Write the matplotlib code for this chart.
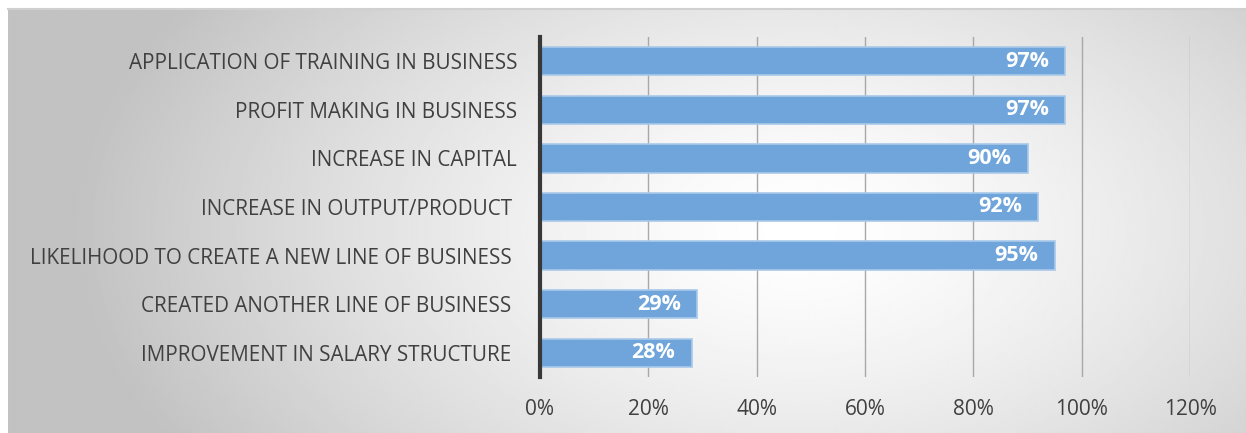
import numpy as np
import matplotlib
matplotlib.use("Agg")
import matplotlib.pyplot as plt
from matplotlib.ticker import PercentFormatter

categories = [
    "IMPROVEMENT IN SALARY STRUCTURE ",
    "CREATED ANOTHER LINE OF BUSINESS ",
    "LIKELIHOOD TO CREATE A NEW LINE OF BUSINESS ",
    "INCREASE IN OUTPUT/PRODUCT ",
    "INCREASE IN CAPITAL",
    "PROFIT MAKING IN BUSINESS",
    "APPLICATION OF TRAINING IN BUSINESS",
]
values = [0.28, 0.29, 0.95, 0.92, 0.90, 0.97, 0.97]
xticks = [0, 0.2, 0.4, 0.6, 0.8, 1.0, 1.2]

plt.rcParams["font.family"] = ["Open Sans", "DejaVu Sans"]

W, H = 1246, 433
fig = plt.figure(figsize=(W / 100, H / 100), dpi=100)
fig.patch.set_facecolor("white")

# radial grey-to-white backdrop for the chart area
bg = fig.add_axes([8 / W, 0, 1 - 8 / W, 1 - 9 / H])
bg.set_axis_off()
nx, ny = 620, 212
gx, gy = np.meshgrid(np.linspace(8, W, nx), np.linspace(9, H, ny))
r = np.sqrt(((gx - 800) / 560) ** 2 + ((gy - 230) / 330) ** 2)
shade = 1.0 - 0.24 * np.clip(r, 0, 1.3) ** 1.4 / 1.3 ** 1.4
bg.imshow(shade, cmap="gray", vmin=0, vmax=1, aspect="auto",
          extent=[0, 1, 0, 1], interpolation="bilinear")
bg.plot([0, 1], [1, 1], color="#d0d0d0", lw=1.5, transform=bg.transAxes, clip_on=False)

ax = fig.add_axes([540 / W, 1 - 377 / H, 650 / W, 340 / H])
ax.set_facecolor("none")
y = np.arange(len(categories))
bars = ax.barh(y, values, height=0.58, color="#6fa5da",
               edgecolor="#a9c9ea", linewidth=1.2, zorder=3)
for b, v in zip(bars, values):
    ax.text(v - 0.03, b.get_y() + b.get_height() / 2, f"{v:.0%}",
            ha="right", va="center", color="white", fontsize=15.5,
            fontweight="bold", zorder=4)

ax.set_xlim(0, 1.2)
ax.set_ylim(-0.5, len(categories) - 0.5)
ax.set_xticks(xticks)
ax.xaxis.set_major_formatter(PercentFormatter(1.0, decimals=0))
ax.set_yticks(y)
ax.set_yticklabels(categories)
ax.tick_params(axis="x", length=0, pad=16, labelsize=15, labelcolor="#404040")
ax.tick_params(axis="y", length=0, pad=16.5, labelsize=14.9, labelcolor="#404040")
ax.grid(axis="x", color="#a8a8a8", lw=1, zorder=0)
for s in ["top", "right", "bottom"]:
    ax.spines[s].set_visible(False)
ax.spines["left"].set_color("#383838")
ax.spines["left"].set_linewidth(3)
ax.spines["left"].set_zorder(5)

fig.savefig("out.png", dpi=100)
